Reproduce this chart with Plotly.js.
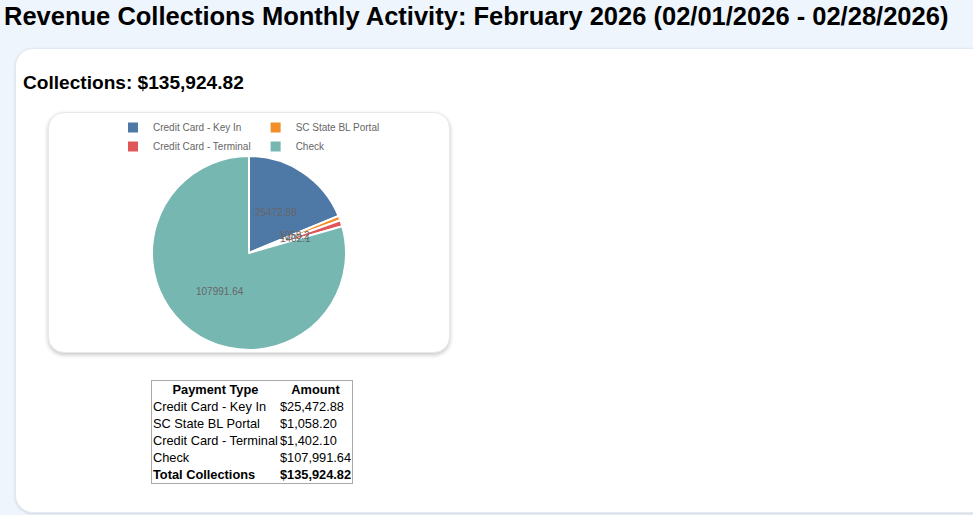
<!DOCTYPE html>
<html>
<head>
<meta charset="utf-8">
<script src="https://cdn.plot.ly/plotly-3.0.1.min.js"></script>
<style>
  html, body { margin: 0; padding: 0; overflow: hidden; }
  body { background: #eef5fd; font-family: "Liberation Sans", Arial, sans-serif; width: 973px; height: 515px; position: relative; }
  h1 { position: absolute; left: 4px; top: 2px; margin: 0; font-size: 25.5px; font-weight: bold; color: #000; white-space: nowrap; }
  .card { position: absolute; left: 15px; top: 48px; width: 1000px; height: 463px; background: #fff;
          border: 1px solid #e3e9f0; border-radius: 18px; box-shadow: 0 1px 3px rgba(0,0,0,0.12); }
  h3 { position: absolute; left: 7px; top: 23px; margin: 0; font-size: 19.1px; font-weight: bold; }
  .chart-box { position: absolute; left: 32px; top: 63px; width: 400px; height: 239px; background: #fff;
               border: 1px solid #e8e8e8; border-radius: 16px; box-shadow: 0 2px 4px rgba(0,0,0,0.22); overflow: hidden; }
  #chart { position: absolute; left: 10px; top: 0; width: 380px; height: 239px; }
  table { position: absolute; left: 135px; top: 331px; border: 1px solid #aaa; border-collapse: collapse; font-size: 12.8px; }
  th, td { padding: 0 1px; line-height: 17px; text-align: left; white-space: nowrap; }
  th { text-align: center; }
  tr.total td { font-weight: bold; }
</style>
</head>
<body>
<h1>Revenue Collections Monthly Activity: February 2026 (02/01/2026 - 02/28/2026)</h1>
<div class="card">
  <h3 id="total-heading"></h3>
  <div class="chart-box"><div id="chart"></div></div>
  <table id="tbl"></table>
</div>
<script>
const paymentTypes = ['Credit Card - Key In', 'SC State BL Portal', 'Credit Card - Terminal', 'Check'];
const amounts = [25472.88, 1058.20, 1402.10, 107991.64];
const sliceColors = ['#4e79a7', '#f28e2b', '#e15759', '#76b7b2'];

const total = amounts.reduce((a, b) => a + b, 0);
const money = v => '$' + v.toLocaleString('en-US', { minimumFractionDigits: 2, maximumFractionDigits: 2 });

document.getElementById('total-heading').textContent = 'Collections: ' + money(total);

const tbl = document.getElementById('tbl');
tbl.innerHTML = `
  <tr><th>Payment Type</th><th>Amount</th></tr>
  ${paymentTypes.map((p, i) => `<tr><td>${p}</td><td>${money(amounts[i])}</td></tr>`).join('')}
  <tr class="total"><td>Total Collections</td><td>${money(total)}</td></tr>`;

const W = 380, H = 239;
const margin = { t: 0, r: 0, b: 2, l: 0 };
const plotW = W - margin.l - margin.r;
const plotH = H - margin.t - margin.b;
// pie sits in the lower part, legend lives in the space above it (inside the plot area so it does not push margins)
const pieH = 194;
const pieTop = pieH / plotH;
const radius = pieH / 2;

// value labels sit at the middle of each slice (mid angle, half radius), like chartjs datalabels
let cum = 0;
const labelAnnotations = amounts.map(v => {
  const mid = (cum + v / 2) / total * 2 * Math.PI;
  cum += v;
  return {
    xref: 'paper', yref: 'paper',
    x: 0.5 + (radius / 2) * Math.sin(mid) / plotW,
    y: pieTop / 2 + (radius / 2) * Math.cos(mid) / plotH,
    xanchor: 'center', yanchor: 'middle',
    text: String(v), showarrow: false,
    font: { family: 'Liberation Sans, Arial, sans-serif', size: 10, color: '#666' },
  };
});

const trace = {
  type: 'pie',
  labels: paymentTypes,
  values: amounts,
  sort: false,
  direction: 'clockwise',
  rotation: 0,
  domain: { x: [0, 1], y: [0, pieTop] },
  marker: { colors: sliceColors, line: { color: '#fff', width: 2 } },
  textinfo: 'none',
  hoverinfo: 'label+value',
};

const layout = {
  width: W,
  height: H,
  paper_bgcolor: 'rgba(0,0,0,0)',
  margin: margin,
  showlegend: true,
  annotations: labelAnnotations,
  legend: {
    orientation: 'h', x: 0.5, xanchor: 'center',
    y: 1, yanchor: 'top',
    font: { family: 'Liberation Sans, Arial, sans-serif', size: 10, color: '#666' },
    itemwidth: 30, tracegroupgap: 0,
  },
};

Plotly.newPlot('chart', [trace], layout, { displayModeBar: false, staticPlot: true });
</script>
</body>
</html>
